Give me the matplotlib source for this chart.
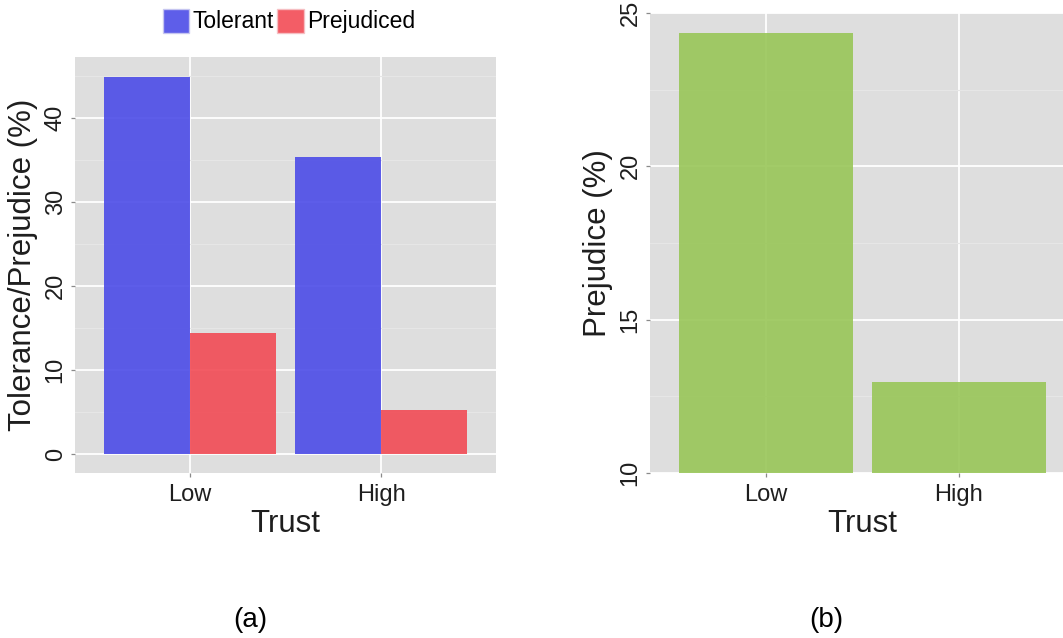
import matplotlib
matplotlib.use("Agg")
import matplotlib.pyplot as plt
from matplotlib.patches import Patch
import numpy as np

plt.rcParams['font.family'] = ['Liberation Sans', 'DejaVu Sans']

# values
trust_levels = ['Low', 'High']
tolerant_pct = [44.9, 35.3]
prejudiced_pct = [14.4, 5.3]
prejudice_only_pct = [24.35, 12.96]

blue = '#4c4ce7'
red = '#f24b55'
green = '#99c658'
panel_bg = '#dedede'
minor_col = '#e6e6e6'
text_col = '#1e1e1e'


def style_axis(ax):
    ax.set_facecolor(panel_bg)
    for s in ax.spines.values():
        s.set_visible(False)
    ax.set_axisbelow(True)
    ax.grid(which='major', color='white', linewidth=1.3)
    ax.grid(which='minor', axis='y', color=minor_col, linewidth=0.8)
    ax.tick_params(which='major', length=3, width=0.9, color='#8a8a8a',
                   labelsize=17, labelcolor=text_col, pad=3)
    ax.tick_params(axis='x', pad=5)
    ax.tick_params(which='minor', length=0)
    ax.tick_params(axis='y', labelrotation=90)
    for lab in ax.get_yticklabels():
        lab.set_va('center')


fig = plt.figure(figsize=(10.63, 6.38), dpi=100)

# (a) tolerance and prejudice by trust
ax1 = fig.add_axes([75 / 1063, 1 - 473 / 638, 421 / 1063, 416 / 638])
x = np.arange(len(trust_levels))
w = 0.45
ax1.bar(x - w / 2, tolerant_pct, width=w, color=blue, alpha=0.9)
ax1.bar(x + w / 2, prejudiced_pct, width=w, color=red, alpha=0.9)
ax1.set_xlim(-0.6, 1.6)
ax1.set_ylim(-2.25, 47.25)
ax1.set_xticks(x)
ax1.set_xticklabels(trust_levels)
ax1.set_yticks([0, 10, 20, 30, 40])
ax1.set_yticks([5, 15, 25, 35, 45], minor=True)
style_axis(ax1)
ax1.set_xlabel('Trust', fontsize=22.5, color=text_col, labelpad=2)
ax1.set_ylabel('Tolerance/Prejudice (%)', fontsize=22.5, color=text_col, labelpad=5)

fig.legend(handles=[Patch(facecolor=blue, edgecolor='#c8c8f0', alpha=0.9, label='Tolerant'),
                    Patch(facecolor=red, edgecolor='#f5c0c4', alpha=0.9, label='Prejudiced')],
           loc='center', bbox_to_anchor=(289 / 1063, 1 - 21 / 638), ncol=2, frameon=False,
           fontsize=16.5, handlelength=1.15, handleheight=1.25, handletextpad=0.15,
           columnspacing=0.15, borderaxespad=0, borderpad=0)

# (b) prejudice only
ax2 = fig.add_axes([650 / 1063, 1 - 473 / 638, 424.6 / 1063, 460 / 638])
ax2.bar(x, prejudice_only_pct, width=0.9, color=green, alpha=0.9)
ax2.set_xlim(-0.6, 1.6)
ax2.set_ylim(10, 25)
ax2.set_xticks(x)
ax2.set_xticklabels(trust_levels)
ax2.set_yticks([10, 15, 20, 25])
ax2.set_yticks([12.5, 17.5, 22.5], minor=True)
style_axis(ax2)
ax2.set_xlabel('Trust', fontsize=22.5, color=text_col, labelpad=2)
ax2.set_ylabel('Prejudice (%)', fontsize=22.5, color=text_col, labelpad=5)

fig.text(250 / 1063, 1 - 620 / 638, '(a)', ha='center', va='center', fontsize=20, color='black')
fig.text(826 / 1063, 1 - 620 / 638, '(b)', ha='center', va='center', fontsize=20, color='black')

fig.savefig('out.png', dpi=100, facecolor='white')
